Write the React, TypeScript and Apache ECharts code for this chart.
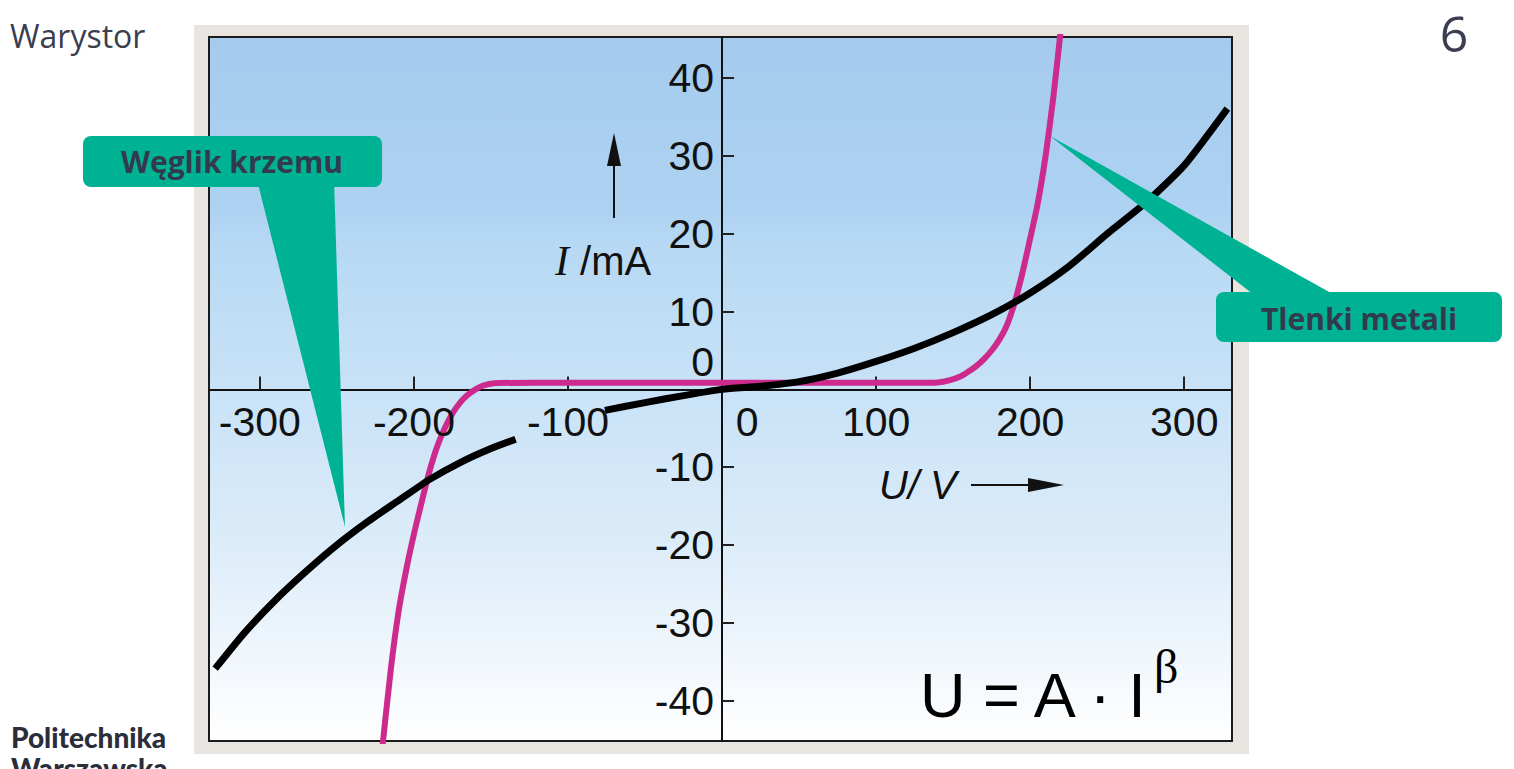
import React, { useEffect, useRef } from "react";
import * as echarts from "echarts";

// Axis tick values
const xTickValues = [-300, -200, -100, 100, 200, 300];
const yTickValues = [-40, -30, -20, -10, 10, 20, 30, 40];

// Węglik krzemu (SiC) – black curve, split where hidden behind the "-100" label
const sicNegU = [-329, -310, -290, -270, -250, -230, -210, -190, -170, -150, -134];
const sicNegI = [-35.9, -31.3, -27.1, -23.4, -20.0, -17.0, -14.3, -11.6, -9.4, -7.6, -6.4];
const sicPosU = [-76, -50, -25, 0, 25, 50, 75, 100, 125, 150, 175, 200, 225, 250, 275, 300, 328];
const sicPosI = [-2.7, -1.7, -0.8, 0, 0.4, 1.0, 2.1, 3.6, 5.3, 7.3, 9.6, 12.4, 15.8, 20.0, 24.0, 28.8, 36.1];

// Tlenki metali (metal oxide) – magenta curve
const moU = [-221, -215, -210, -205, -200, -195, -190, -185, -180, -175, -170, -165, -160, -155, -148, -120, -60, 0, 60, 120, 140, 148, 155, 160, 165, 170, 175, 180, 185, 190, 195, 200, 205, 210, 215, 220];
const moI = [-47, -36, -28.6, -23.2, -18.6, -14.5, -10.6, -7.4, -5.0, -3.1, -1.7, -0.7, 0.0, 0.5, 0.8, 0.85, 0.85, 0.85, 0.85, 0.85, 0.9, 1.2, 1.7, 2.3, 3.0, 3.9, 5.0, 6.4, 8.3, 11.2, 15.0, 19.4, 24.0, 30.0, 37.5, 46.5];

const TEAL = "#00b294";
const DARK = "#3a3e50";
const TICK_FONT = "Liberation Sans";
const TICK_SIZE = 41;
const X_LABEL_MARGIN = 12;
const Y_LABEL_MARGIN = 8;

const pairs = (u: number[], v: number[]) => u.map((x, k) => [x, v[k]]);

const tickStyle = (align: string, vAlign: string) => ({
  fontFamily: TICK_FONT,
  fontSize: TICK_SIZE,
  fill: "#111",
  align,
  textAlign: align,
  verticalAlign: vAlign,
  textVerticalAlign: vAlign,
});

export default function App() {
  const ref = useRef<HTMLDivElement>(null);

  useEffect(() => {
    document.body.style.margin = "0";
    const chart = echarts.init(ref.current!, null, { renderer: "svg" });

    const staticGraphics: any[] = [
      {
        id: "frame",
        type: "rect",
        z: -10,
        shape: { x: 194, y: 25, width: 1055, height: 729 },
        style: { fill: "#e8e5e0" },
      },
      {
        id: "title",
        type: "text",
        x: 10,
        y: 35,
        style: { text: "Warystor", fontFamily: "Open Sans", fontSize: 32, fill: DARK, verticalAlign: "middle", textVerticalAlign: "middle" },
      },
      {
        id: "page",
        type: "text",
        x: 1454,
        y: 33,
        style: { text: "6", fontFamily: "Open Sans", fontSize: 50, fill: DARK, align: "center", textAlign: "center", verticalAlign: "middle", textVerticalAlign: "middle" },
      },
      {
        id: "logo1",
        type: "text",
        x: 11,
        y: 737,
        style: { text: "Politechnika", fontFamily: "Lato", fontWeight: 900, fontSize: 28, fill: "#2b2d3a", verticalAlign: "middle", textVerticalAlign: "middle" },
      },
      {
        id: "logo2",
        type: "text",
        x: 11,
        y: 768,
        style: { text: "Warszawska", fontFamily: "Lato", fontWeight: 900, fontSize: 28, fill: "#2b2d3a", verticalAlign: "middle", textVerticalAlign: "middle" },
      },
      // axis names with arrows
      {
        id: "iname",
        type: "text",
        z: 5,
        x: 555,
        y: 261,
        style: {
          text: "{i|I}{r| /mA}",
          fill: "#111",
          verticalAlign: "middle",
          textVerticalAlign: "middle",
          rich: {
            i: { fontFamily: "Liberation Serif", fontStyle: "italic", fontSize: 42, fill: "#111" },
            r: { fontFamily: TICK_FONT, fontSize: 40, fill: "#111" },
          },
        },
      },
      { id: "iarrow", type: "line", z: 5, shape: { x1: 614, y1: 218, x2: 614, y2: 160 }, style: { stroke: "#111", lineWidth: 2 } },
      { id: "iarrowhead", type: "polygon", z: 5, shape: { points: [[614, 133], [607, 166], [621, 166]] }, style: { fill: "#111" } },
      {
        id: "uname",
        type: "text",
        z: 5,
        x: 879,
        y: 485,
        style: { text: "U/ V", fontFamily: TICK_FONT, fontStyle: "italic", fontSize: 40, fill: "#111", verticalAlign: "middle", textVerticalAlign: "middle" },
      },
      { id: "uarrow", type: "line", z: 5, shape: { x1: 971, y1: 485, x2: 1035, y2: 485 }, style: { stroke: "#111", lineWidth: 2 } },
      { id: "uarrowhead", type: "polygon", z: 5, shape: { points: [[1064, 485], [1028, 478], [1028, 492]] }, style: { fill: "#111" } },
      // formula
      {
        id: "formula",
        type: "text",
        z: 5,
        x: 920,
        y: 695,
        style: { text: "U = A · I", fontFamily: TICK_FONT, fontSize: 63, fill: "#000", verticalAlign: "middle", textVerticalAlign: "middle" },
      },
      {
        id: "beta",
        type: "text",
        z: 5,
        x: 1154,
        y: 666,
        style: { text: "β", fontFamily: "Liberation Serif", fontSize: 48, fill: "#000", verticalAlign: "middle", textVerticalAlign: "middle" },
      },
      // callout: Węglik krzemu
      { id: "c1ptr", type: "polygon", z: 20, shape: { points: [[257, 180], [334, 180], [345, 527]] }, style: { fill: TEAL } },
      { id: "c1box", type: "rect", z: 20, shape: { x: 83, y: 136, width: 299, height: 51, r: 8 }, style: { fill: TEAL } },
      {
        id: "c1txt",
        type: "text",
        z: 21,
        x: 232,
        y: 161,
        style: { text: "Węglik krzemu", fontFamily: "Open Sans", fontWeight: "bold", fontSize: 30, fill: "#323a4e", align: "center", textAlign: "center", verticalAlign: "middle", textVerticalAlign: "middle" },
      },
      // callout: Tlenki metali
      { id: "c2ptr", type: "polygon", z: 20, shape: { points: [[1050, 136], [1258, 298], [1340, 298]] }, style: { fill: TEAL } },
      { id: "c2box", type: "rect", z: 20, shape: { x: 1216, y: 292, width: 286, height: 50, r: 8 }, style: { fill: TEAL } },
      {
        id: "c2txt",
        type: "text",
        z: 21,
        x: 1359,
        y: 318,
        style: { text: "Tlenki metali", fontFamily: "Open Sans", fontWeight: "bold", fontSize: 30, fill: "#323a4e", align: "center", textAlign: "center", verticalAlign: "middle", textVerticalAlign: "middle" },
      },
    ];

    const option: any = {
      animation: false,
      backgroundColor: "#ffffff",
      grid: {
        left: 209,
        right: 1514 - 1232,
        top: 37,
        bottom: 769 - 741,
        containLabel: false,
        outerBoundsMode: "none",
        show: true,
        borderColor: "#1a1a1a",
        borderWidth: 2,
        backgroundColor: {
          type: "linear",
          x: 0,
          y: 0,
          x2: 0,
          y2: 1,
          colorStops: [
            { offset: 0, color: "#a4cbee" },
            { offset: 0.25, color: "#aed2f1" },
            { offset: 0.3, color: "#b7d9f4" },
            { offset: 0.5, color: "#c8e2f7" },
            { offset: 0.72, color: "#dcecf9" },
            { offset: 0.9, color: "#f3f8fd" },
            { offset: 1, color: "#ffffff" },
          ],
        },
      },
      xAxis: {
        type: "value",
        min: -333,
        max: 331,
        splitLine: { show: false },
        axisLine: { show: true, onZero: true, lineStyle: { color: "#111", width: 2 } },
        axisTick: { show: true, inside: true, length: 13, customValues: xTickValues, lineStyle: { color: "#222", width: 2 } },
        axisLabel: { show: false },
      },
      yAxis: {
        type: "value",
        min: -45.2,
        max: 45.3,
        splitLine: { show: false },
        axisLine: { show: true, onZero: true, lineStyle: { color: "#111", width: 2 } },
        axisTick: { show: true, inside: true, length: 12, customValues: yTickValues, lineStyle: { color: "#222", width: 2 } },
        axisLabel: { show: false },
      },
      series: [
        {
          name: "Tlenki metali",
          type: "line",
          data: pairs(moU, moI),
          showSymbol: false,
          symbol: "none",
          smooth: 0.2,
          clip: true,
          lineStyle: { color: "#cc2a8c", width: 6, cap: "round" },
          z: 3,
        },
        {
          name: "Węglik krzemu",
          type: "line",
          data: pairs(sicNegU, sicNegI),
          showSymbol: false,
          symbol: "none",
          smooth: 0.2,
          lineStyle: { color: "#000", width: 7, cap: "butt" },
          z: 4,
        },
        {
          name: "Węglik krzemu ",
          type: "line",
          data: pairs(sicPosU, sicPosI),
          showSymbol: false,
          symbol: "none",
          smooth: 0.2,
          lineStyle: { color: "#000", width: 7, cap: "butt" },
          z: 4,
        },
      ],
      graphic: { elements: staticGraphics },
    };

    chart.setOption(option);

    const origin = chart.convertToPixel({ gridIndex: 0 }, [0, 0]) as number[];
    const labels: any[] = [];
    xTickValues.forEach((v) => {
      const px = chart.convertToPixel({ xAxisIndex: 0 }, v) as number;
      labels.push({ id: "xl" + v, type: "text", z: 5, x: px, y: origin[1] + X_LABEL_MARGIN, style: { text: String(v), ...tickStyle("center", "top") } });
    });
    labels.push({ id: "xl0", type: "text", z: 5, x: origin[0] + 25, y: origin[1] + X_LABEL_MARGIN, style: { text: "0", ...tickStyle("center", "top") } });
    yTickValues.forEach((v) => {
      const py = chart.convertToPixel({ yAxisIndex: 0 }, v) as number;
      labels.push({ id: "yl" + v, type: "text", z: 5, x: origin[0] - Y_LABEL_MARGIN, y: py, style: { text: String(v), ...tickStyle("right", "middle") } });
    });
    labels.push({ id: "yl0", type: "text", z: 5, x: origin[0] - Y_LABEL_MARGIN, y: origin[1] - 27, style: { text: "0", ...tickStyle("right", "middle") } });

    chart.setOption({ graphic: { elements: [...staticGraphics, ...labels] } }, { replaceMerge: ["graphic"] });

    return () => chart.dispose();
  }, []);

  return (
    <div
      ref={ref}
      style={{ position: "fixed", left: 0, top: 0, width: 1514, height: 769, background: "#ffffff" }}
    />
  );
}
